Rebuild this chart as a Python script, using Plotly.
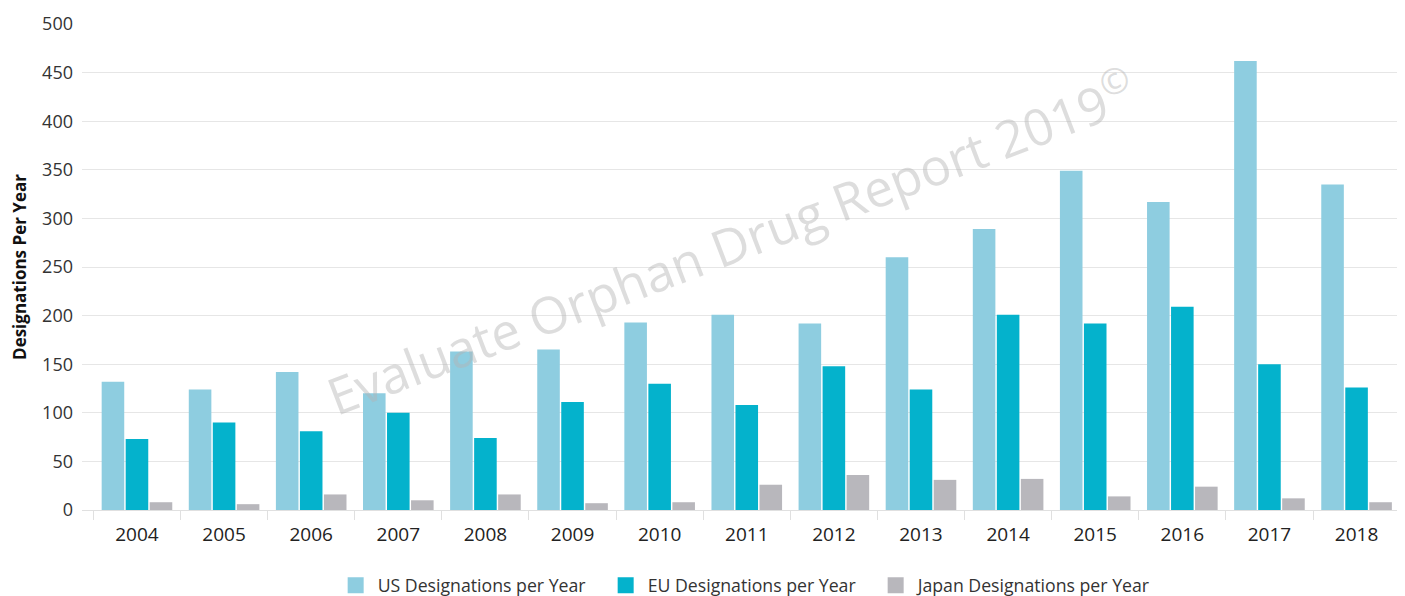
import plotly.graph_objects as go

years = ["2004", "2005", "2006", "2007", "2008", "2009", "2010", "2011",
         "2012", "2013", "2014", "2015", "2016", "2017", "2018"]
us_values = [132, 124, 142, 120, 163, 165, 193, 201, 192, 260, 289, 349, 317, 462, 335]
eu_values = [73, 90, 81, 100, 74, 111, 130, 108, 148, 124, 201, 192, 209, 150, 126]
japan_values = [8, 6, 16, 10, 16, 7, 8, 26, 36, 31, 32, 14, 24, 12, 8]

series_names = ["US Designations per Year", "EU Designations per Year", "Japan Designations per Year"]
colors = ["#8ecde0", "#04b2cc", "#b8b7bc"]
legend_widths = [221, 221, 232]
FONT = "Open Sans"

fig = go.Figure()
for name, vals, col in zip(series_names, [us_values, eu_values, japan_values], colors):
    fig.add_trace(go.Bar(x=years, y=vals, name=name, legendgroup=name, showlegend=False,
                         marker=dict(color=col, line=dict(width=0))))
# legend entries with larger square swatches
for name, col, lw in zip(series_names, colors, legend_widths):
    fig.add_trace(go.Scatter(x=[None], y=[None], mode="markers", name=name, legendgroup=name,
                             legendwidth=lw,
                             marker=dict(symbol="square", size=18, color=col)))

fig.add_annotation(
    text="Evaluate Orphan Drug Report 2019<sup>©</sup>",
    xref="paper", yref="paper", x=0.49, y=0.553,
    showarrow=False, textangle=-21,
    font=dict(family=FONT, size=51, color="rgba(180,180,180,0.45)"),
)

# page body has an 8px default margin: figure is sized so the plot lands on the window pixels
fig.update_layout(
    width=1397, height=588,
    margin=dict(l=74, r=0, t=16, b=86, autoexpand=False),
    paper_bgcolor="white", plot_bgcolor="white",
    barmode="group", bargap=0.173, bargroupgap=0.06,
    font=dict(family=FONT, color="#333333"),
    legend=dict(orientation="h", x=0.5005, xanchor="center", y=-0.156, yanchor="middle",
                font=dict(family=FONT, size=17.7, color="#333333"),
                traceorder="normal", itemwidth=34),
    xaxis=dict(
        type="category", range=[-0.631, 14.556],
        showgrid=False, showline=True, linecolor="#e0e0e0", linewidth=1,
        ticks="outside", tickson="boundaries", ticklen=9, tickcolor="#e0e0e0",
        tickfont=dict(family=FONT, size=19, color="#222222"), ticklabelstandoff=7,
        fixedrange=True,
    ),
    yaxis=dict(
        range=[0, 500], dtick=50, showgrid=True, gridcolor="#e6e6e6", gridwidth=1,
        zeroline=False, showline=False, ticks="",
        tickfont=dict(family=FONT, size=18, color="#333333"), ticklabelstandoff=8,
        title=dict(text="<b>Designations Per Year</b>", font=dict(family=FONT, size=17, color="#111111"),
                   standoff=12),
        fixedrange=True,
    ),
)

fig.write_html("out.html")
